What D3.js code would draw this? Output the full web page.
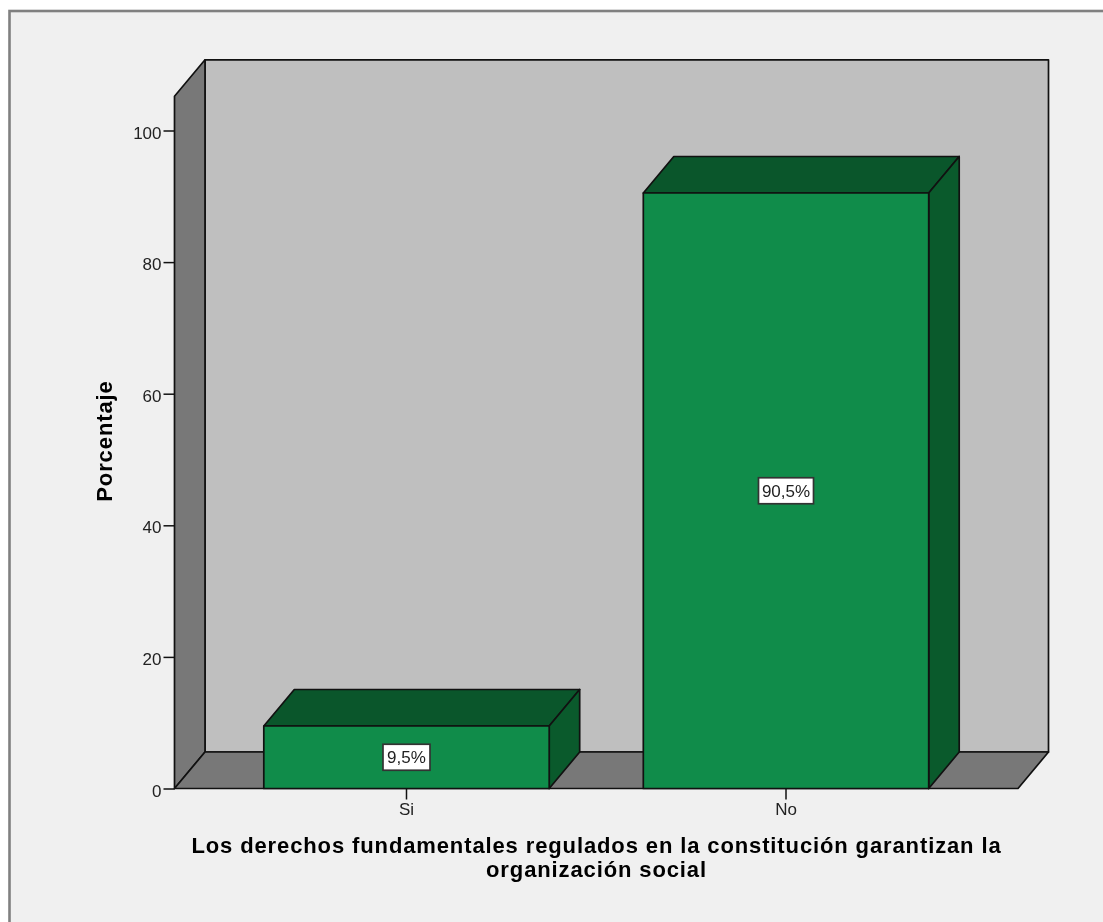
<!DOCTYPE html>
<html><head><meta charset="utf-8">
<script src="https://cdn.jsdelivr.net/npm/d3@7"></script>
<style>html,body{margin:0;padding:0;background:#fff;overflow:hidden}svg{display:block;filter:blur(0.35px)}text{font-family:"Liberation Sans",Arial,sans-serif}</style>
</head><body><svg id="c" width="1103" height="922"></svg>
<script>
const categories = ["Si","No"];
const values = [9.5,90.5];
const valueLabels = ["9,5%","90,5%"];
const yTicks = [0,20,40,60,80,100];
const yTitle = "Porcentaje";
const xTitleLines = ["Los derechos fundamentales regulados en la constitución garantizan la","organización social"];

const svg = d3.select("#c");
const ink = "#111";
const dx = 30.5, dy = -36.5;
const y = d3.scaleLinear().domain([0,100]).range([788.5,130.5]);
const x = d3.scaleBand().domain(categories).range([174.5,1018]).paddingInner(0.248).paddingOuter(0.2353);
const x0 = x.range()[0], x1 = x.range()[1], yBase = y(0), yTop = y(105.2);
const path = p => "M"+p.map(d=>d.join(",")).join("L")+"Z";
const face = (g,p,fill) => g.append("path").attr("d",path(p)).attr("fill",fill).attr("stroke",ink).attr("stroke-width",1.7).attr("stroke-linejoin","round");

svg.append("rect").attr("x",9.5).attr("y",11).attr("width",1200).attr("height",1000)
  .attr("fill","#f0f0f0").attr("stroke","#808080").attr("stroke-width",2.6);

const walls = svg.append("g");
face(walls,[[x0+dx,yTop+dy],[x1+dx,yTop+dy],[x1+dx,yBase+dy],[x0+dx,yBase+dy]],"#bfbfbf");
face(walls,[[x0,yTop],[x0+dx,yTop+dy],[x0+dx,yBase+dy],[x0,yBase]],"#787878");
face(walls,[[x0,yBase],[x0+dx,yBase+dy],[x1+dx,yBase+dy],[x1,yBase]],"#787878");

const bars = svg.append("g");
categories.forEach((c,i)=>{
  const l=x(c), r=l+x.bandwidth(), t=y(values[i]);
  const g=bars.append("g");
  face(g,[[l,t],[l+dx,t+dy],[r+dx,t+dy],[r,t]],"#0a562b");
  face(g,[[r,t],[r+dx,t+dy],[r+dx,yBase+dy],[r,yBase]],"#0a5a2c");
  face(g,[[l,t],[r,t],[r,yBase],[l,yBase]],"#108c4a");
  const cx=l+x.bandwidth()/2, cy=y(values[i]/2);
  const w = valueLabels[i].length>4?55:47;
  g.append("rect").attr("x",cx-w/2).attr("y",cy-13).attr("width",w).attr("height",26)
    .attr("fill","#fff").attr("stroke","#333").attr("stroke-width",1.7);
  g.append("text").attr("x",cx).attr("y",cy+6).attr("text-anchor","middle").attr("font-size",17).attr("fill","#222").text(valueLabels[i]);
});

const yAxis = d3.axisLeft(y).tickValues(yTicks).tickSize(11).tickPadding(2);
const gy = svg.append("g").attr("transform",`translate(${x0},0)`).call(yAxis);
gy.select(".domain").remove();
gy.selectAll("line").attr("stroke",ink).attr("stroke-width",1.5);
gy.selectAll("text").attr("font-size",17).attr("fill","#222").attr("dy","0.45em").attr("font-family",'"Liberation Sans"');

const xAxis = d3.axisBottom(x).tickSize(11).tickPadding(3);
const gx = svg.append("g").attr("transform",`translate(0,${yBase})`).call(xAxis);
gx.select(".domain").remove();
gx.selectAll("line").attr("stroke",ink).attr("stroke-width",1.5);
gx.selectAll("text").attr("font-size",17).attr("fill","#222").attr("font-family",'"Liberation Sans"');

svg.append("text").attr("transform","translate(112,441) rotate(-90)").attr("text-anchor","middle")
  .attr("font-size",22).attr("font-weight","bold").attr("letter-spacing",0.9).attr("fill","#000").text(yTitle);
xTitleLines.forEach((t,i)=>svg.append("text").attr("x",596.5).attr("y",853+i*23.5).attr("text-anchor","middle")
  .attr("font-size",22).attr("font-weight","bold").attr("letter-spacing",0.88).attr("fill","#000").text(t));
</script></body></html>
